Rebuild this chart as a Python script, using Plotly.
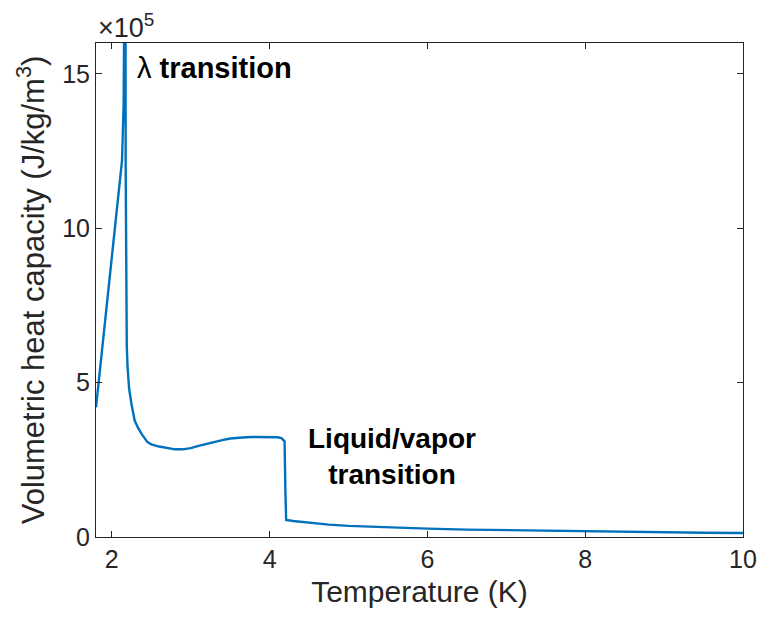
import plotly.graph_objects as go

# Temperature (K)
temperature = [1.8, 1.85, 1.9, 1.95, 2.0, 2.05, 2.1, 2.13, 2.15, 2.165, 2.172, 2.176, 2.18,
               2.19, 2.2, 2.22, 2.25, 2.29, 2.33, 2.38, 2.45, 2.5, 2.6, 2.7, 2.8, 2.9, 3.0,
               3.1, 3.2, 3.3, 3.4, 3.5, 3.6, 3.7, 3.8, 3.9, 4.0, 4.1, 4.15, 4.19, 4.2, 4.21,
               4.3, 4.5, 4.75, 5.0, 5.5, 6.0, 6.5, 7.0, 7.5, 8.0, 8.5, 9.0, 9.5, 10.0]
# Volumetric heat capacity (x1e5 J/kg/m^3)
heat_capacity_e5 = [4.2, 5.4, 6.6, 7.8, 9.0, 10.2, 11.4, 12.2, 14.0, 17.0, 22.0, 12.0, 8.0,
                    6.2, 5.5, 4.8, 4.3, 3.77, 3.55, 3.33, 3.08, 3.0, 2.93, 2.88, 2.84, 2.84, 2.88,
                    2.95, 3.02, 3.08, 3.14, 3.19, 3.22, 3.23, 3.24, 3.24, 3.24, 3.23, 3.2, 3.1, 1.5, 0.55,
                    0.52, 0.46, 0.40, 0.36, 0.31, 0.27, 0.24, 0.22, 0.20, 0.18, 0.17, 0.16, 0.14, 0.13]

x_ticks = [2, 4, 6, 8, 10]
y_ticks = [0, 5, 10, 15]

FONT = "Liberation Sans, Arial, Helvetica, sans-serif"
GREY = "#262626"

fig = go.Figure()
fig.add_trace(go.Scatter(
    x=temperature, y=heat_capacity_e5, mode="lines",
    line=dict(color="#0072BD", width=2.4), showlegend=False,
))

axis_common = dict(
    showgrid=False, zeroline=False, showline=True, linecolor=GREY, linewidth=1,
    mirror="ticks", ticks="inside", ticklen=6, tickcolor=GREY, tickwidth=1,
    tickfont=dict(family=FONT, size=25, color=GREY), automargin=False,
)

fig.update_layout(
    width=761, height=628,
    margin=dict(l=96, r=18, t=43, b=91),
    paper_bgcolor="white", plot_bgcolor="white",
    font=dict(family=FONT, color=GREY),
    xaxis=dict(range=[1.8, 10], tickvals=x_ticks, ticktext=[str(v) for v in x_ticks],
               title=dict(text="Temperature (K)", font=dict(family=FONT, size=30, color=GREY), standoff=8),
               **axis_common),
    yaxis=dict(range=[0, 16], tickvals=y_ticks, ticktext=[str(v) for v in y_ticks],
               title=dict(text="Volumetric heat capacity (J/kg/m<sup>3</sup>)",
                          font=dict(family=FONT, size=31, color=GREY), standoff=8),
               **axis_common),
    annotations=[
        dict(text="×10<sup>5</sup>", xref="paper", yref="paper", x=0.0, y=1.0,
             xanchor="left", yanchor="bottom", showarrow=False,
             font=dict(family=FONT, size=27, color=GREY), yshift=-2),
        dict(text="λ <b>transition</b>", xref="x", yref="y", x=2.3, y=15.2,
             xanchor="left", yanchor="middle", showarrow=False,
             font=dict(family=FONT, size=29, color="black")),
        dict(text="<b>Liquid/vapor<br>transition</b>", xref="x", yref="y", x=5.55, y=2.6,
             xanchor="center", yanchor="middle", showarrow=False, align="center",
             font=dict(family=FONT, size=28, color="black")),
    ],
)

fig.write_html("out.html", config={"displayModeBar": False},
               post_script="document.body.style.margin='0';")
